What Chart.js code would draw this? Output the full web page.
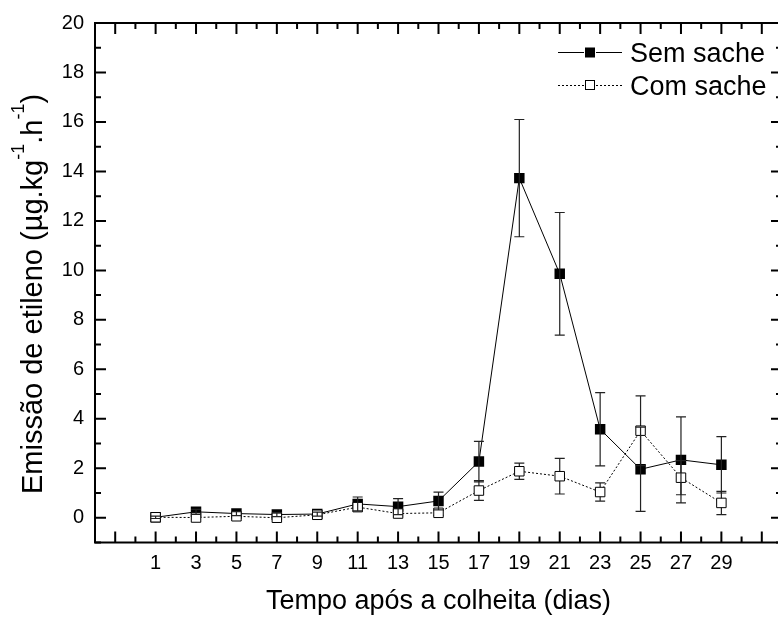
<!DOCTYPE html>
<html>
<head>
<meta charset="utf-8">
<script src="https://cdn.jsdelivr.net/npm/chart.js@4.4.1/dist/chart.umd.min.js"></script>
<style>
  html, body { margin: 0; padding: 0; background: #fff; overflow: hidden; }
  #wrap { width: 790px; height: 618px; }
</style>
</head>
<body>
<div id="wrap"><canvas id="chart" width="790" height="618"></canvas></div>
<script>
// ==============================
// DATA
// ==============================
const days = [1, 3, 5, 7, 9, 11, 13, 15, 17, 19, 21, 23, 25, 27, 29];

const semSache    = [0.02, 0.24, 0.17, 0.13, 0.15, 0.56, 0.45, 0.68, 2.27, 13.73, 9.86, 3.58, 1.96, 2.34, 2.14];
const semSacheErr = [0.05, 0.10, 0.08, 0.08, 0.08, 0.28, 0.32, 0.36, 0.82, 2.37, 2.48, 1.48, 1.70, 1.74, 1.14];

const comSache    = [0.02, 0.01, 0.06, 0.00, 0.12, 0.43, 0.17, 0.20, 1.10, 1.88, 1.68, 1.04, 3.52, 1.62, 0.60];
const comSacheErr = [0.05, 0.06, 0.06, 0.06, 0.06, 0.15, 0.10, 0.10, 0.40, 0.33, 0.72, 0.37, 1.41, 0.69, 0.47];

const xTicks = [-1, 1, 3, 5, 7, 9, 11, 13, 15, 17, 19, 21, 23, 25, 27, 29, 31];
const xMinor = [-2, 0, 2, 4, 6, 8, 10, 12, 14, 16, 18, 20, 22, 24, 26, 28, 30, 32];
const yTicks = [0, 2, 4, 6, 8, 10, 12, 14, 16, 18, 20];
const yMinor = [-1, 1, 3, 5, 7, 9, 11, 13, 15, 17, 19];

const FONT = '"Liberation Sans", Arial, sans-serif';

// ==============================
// HELPERS
// ==============================
function drawErrorBars(chart, values, errs) {
  const { ctx, scales: { x, y } } = chart;
  ctx.save();
  ctx.strokeStyle = "#222";
  ctx.lineWidth = 1.2;
  values.forEach((v, i) => {
    const px = x.getPixelForValue(days[i]);
    const top = y.getPixelForValue(v + errs[i]);
    const bot = y.getPixelForValue(v - errs[i]);
    ctx.beginPath();
    ctx.moveTo(px, top); ctx.lineTo(px, bot);
    ctx.moveTo(px - 5, top); ctx.lineTo(px + 5, top);
    ctx.moveTo(px - 5, bot); ctx.lineTo(px + 5, bot);
    ctx.stroke();
  });
  ctx.restore();
}

function drawFrame(chart) {
  const { ctx, chartArea: a, scales: { x, y } } = chart;
  ctx.save();
  ctx.strokeStyle = "#000";
  ctx.lineWidth = 2;
  ctx.strokeRect(a.left, a.top, a.right - a.left, a.bottom - a.top);

  const major = 11, minor = 6;
  ctx.beginPath();
  const tickX = (v, len) => {
    const px = x.getPixelForValue(v);
    ctx.moveTo(px, a.bottom); ctx.lineTo(px, a.bottom - len);
    ctx.moveTo(px, a.top); ctx.lineTo(px, a.top + len);
  };
  const tickY = (v, len) => {
    const py = y.getPixelForValue(v);
    ctx.moveTo(a.left, py); ctx.lineTo(a.left + len, py);
    ctx.moveTo(a.right, py); ctx.lineTo(a.right - len, py);
  };
  xTicks.forEach(v => tickX(v, major));
  xMinor.forEach(v => tickX(v, minor));
  yTicks.forEach(v => tickY(v, major));
  yMinor.forEach(v => tickY(v, minor));
  ctx.stroke();
  ctx.restore();
}

function drawYTitle(ctx) {
  const parts = [
    ["Emissão de etileno (µg.kg", false],
    ["-1", true],
    [".h", false],
    ["-1", true],
    [")", false]
  ];
  const fontOf = sup => (sup ? "18px " : "29px ") + FONT;
  ctx.save();
  ctx.fillStyle = "#000";
  ctx.textBaseline = "alphabetic";
  let total = 0;
  parts.forEach(p => { ctx.font = fontOf(p[1]); total += ctx.measureText(p[0]).width; });
  ctx.translate(42, 294);
  ctx.rotate(-Math.PI / 2);
  let cx = -total / 2;
  parts.forEach(p => {
    ctx.font = fontOf(p[1]);
    ctx.fillText(p[0], cx, p[1] ? -18 : 0);
    cx += ctx.measureText(p[0]).width;
  });
  ctx.restore();
}

function drawLegend(ctx) {
  ctx.save();
  ctx.strokeStyle = "#000";
  ctx.lineWidth = 1;
  ctx.font = "27px " + FONT;
  ctx.fillStyle = "#000";
  ctx.textBaseline = "alphabetic";

  // Sem sache
  ctx.beginPath();
  ctx.moveTo(558, 52.5); ctx.lineTo(584, 52.5);
  ctx.moveTo(596, 52.5); ctx.lineTo(622, 52.5);
  ctx.stroke();
  ctx.fillRect(585, 47.5, 10, 10);
  ctx.fillText("Sem sache", 630, 62);

  // Com sache
  ctx.setLineDash([2, 2]);
  ctx.beginPath();
  ctx.moveTo(558, 85.5); ctx.lineTo(584, 85.5);
  ctx.moveTo(596, 85.5); ctx.lineTo(622, 85.5);
  ctx.stroke();
  ctx.setLineDash([]);
  ctx.strokeRect(585.5, 80.5, 9, 9);
  ctx.fillText("Com sache", 630, 94.5);
  ctx.restore();
}

// ==============================
// PLUGINS
// ==============================
const decorations = {
  id: "decorations",
  beforeDatasetDraw(chart, args) {
    if (args.index === 1) drawErrorBars(chart, comSache, comSacheErr);
  },
  afterDatasetsDraw(chart) {
    drawErrorBars(chart, semSache, semSacheErr);
    drawFrame(chart);
  },
  afterDraw(chart) {
    drawYTitle(chart.ctx);
    drawLegend(chart.ctx);
  }
};

// ==============================
// CHART
// ==============================
const ctx = document.getElementById("chart").getContext("2d");

new Chart(ctx, {
  type: "line",
  data: {
    datasets: [
      {
        label: "Sem sache",
        data: days.map((d, i) => ({ x: d, y: semSache[i] })),
        borderColor: "#000",
        borderWidth: 1,
        backgroundColor: "#000",
        pointStyle: "rect",
        pointRadius: 7.4,
        pointBorderWidth: 0,
        pointBackgroundColor: "#000",
        tension: 0,
        order: 2
      },
      {
        label: "Com sache",
        data: days.map((d, i) => ({ x: d, y: comSache[i] })),
        borderColor: "#000",
        borderWidth: 1,
        borderDash: [2, 2],
        pointStyle: "rect",
        pointRadius: 6.7,
        pointBorderWidth: 1,
        pointBorderColor: "#000",
        pointBackgroundColor: "#fff",
        tension: 0,
        order: 1
      }
    ]
  },
  options: {
    responsive: false,
    devicePixelRatio: 1,
    animation: false,
    layout: { padding: { left: 0, top: 21, right: 8, bottom: 0 } },
    plugins: {
      legend: { display: false },
      tooltip: { enabled: false }
    },
    scales: {
      x: {
        type: "linear",
        min: -2,
        max: 32,
        grid: { display: false, drawTicks: false, tickLength: 0 },
        border: { display: false },
        afterBuildTicks: s => { s.ticks = xTicks.map(v => ({ value: v })); },
        afterFit: s => { s.height = 75.5; },
        ticks: {
          color: "#000",
          font: { family: FONT, size: 20 },
          padding: 8.5,
          maxRotation: 0,
          autoSkip: false,
          callback: v => (days.includes(v) ? String(v) : "")
        },
        title: {
          display: true,
          text: "Tempo após a colheita (dias)",
          color: "#000",
          font: { family: FONT, size: 27 },
          padding: { top: 0, bottom: 0 }
        }
      },
      y: {
        min: -1,
        max: 20,
        grid: { display: false, drawTicks: false, tickLength: 0 },
        border: { display: false },
        afterBuildTicks: s => { s.ticks = yTicks.map(v => ({ value: v })); },
        afterFit: s => { s.width = 95; },
        ticks: {
          color: "#000",
          font: { family: FONT, size: 20 },
          padding: 11,
          autoSkip: false
        }
      }
    }
  },
  plugins: [decorations]
});
</script>
</body>
</html>
